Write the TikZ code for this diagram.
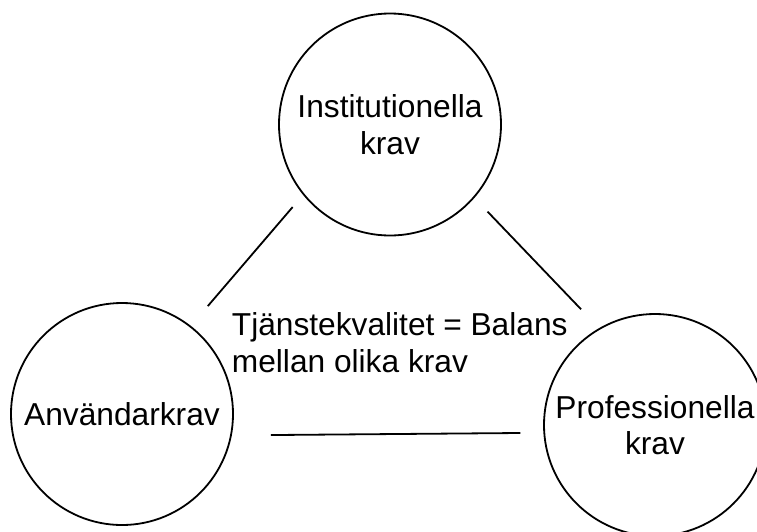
\documentclass[tikz,border=0pt]{standalone}
\usepackage{fontspec}
\setmainfont{Liberation Sans}
\usetikzlibrary{positioning}

\begin{document}
\begin{tikzpicture}[x=1pt, y=-1pt, line width=1.8pt,
  krav/.style={circle, draw, minimum size=222pt, inner sep=0pt, align=center,
    font=\fontsize{31.7}{36.5}\selectfont}]
\useasboundingbox (0,0) rectangle (757,531);
% Requirements
\node[krav] (inst) at (390,124.5) {Institutionella\\krav};
\node[krav] (anv) at (122,414) {Användarkrav};
\node[krav] (prof) at (655,425) {Professionella\\krav};

% Links
\draw[shorten <=16pt, shorten >=26pt] (inst.219) -- (anv.52);
\draw[shorten <=19pt, shorten >=26pt] (inst.319) -- (prof.120);
\draw[shorten <=39pt, shorten >=23pt] (anv.349.5) -- (prof.184.7);

% Balance
\node[anchor=north west, inner sep=0pt, align=left,
  font=\fontsize{31.7}{36.5}\selectfont] (balans) at (231,312)
  {Tjänstekvalitet = Balans\\mellan olika krav};
\end{tikzpicture}
\end{document}
